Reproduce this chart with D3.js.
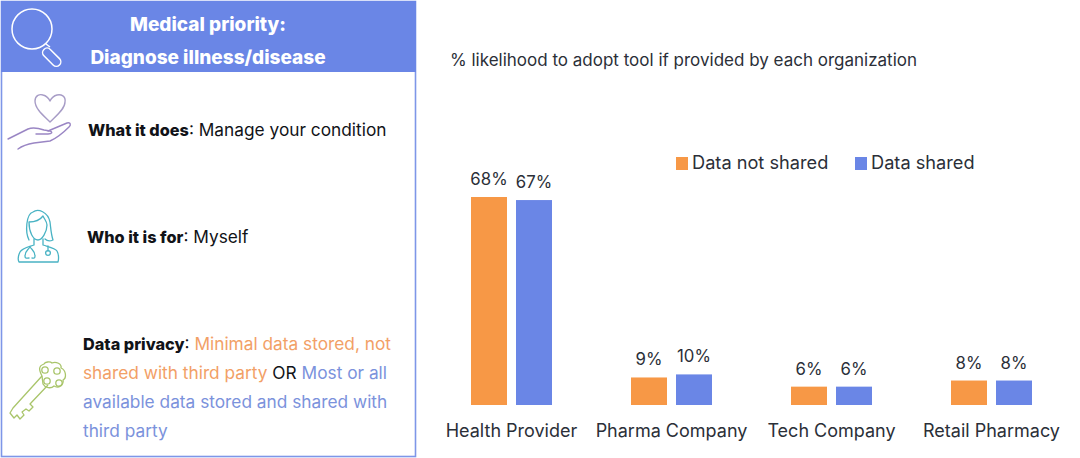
<!DOCTYPE html>
<html>
<head>
<meta charset="utf-8">
<script src="https://cdn.jsdelivr.net/npm/d3@7"></script>
<style>
  html, body { margin: 0; padding: 0; background: #fff; }
  svg { display: block; }
  text { font-family: Inter, "Open Sans", sans-serif; }
</style>
</head>
<body>
<svg width="1080" height="458"></svg>
<script>
let categories = ["Health Provider", "Pharma Company", "Tech Company", "Retail Pharmacy"];
let seriesNames = ["Data not shared", "Data shared"];
let notShared = [68, 9, 6, 8];
let shared = [67, 10, 6, 8];

let orange = "#f79846", blue = "#6a86e6", dark = "#2b2f38", black = "#111318";
let softOrange = "#f2a066", softBlue = "#7b92dc";
let svg = d3.select("svg");

// left panel
svg.append("rect").attr("x", 1.5).attr("y", 1.5).attr("width", 414).attr("height", 455)
    .attr("fill", "#fff").attr("stroke", "#7e96e8").attr("stroke-width", 1.6);
svg.append("rect").attr("x", 1).attr("y", 1).attr("width", 415).attr("height", 71).attr("fill", blue);

svg.append("text").attr("x", 208).attr("y", 31).attr("text-anchor", "middle")
    .attr("fill", "#fff").attr("font-weight", 800).style("font-size", "19px").text("Medical priority:");
svg.append("text").attr("x", 208).attr("y", 64).attr("text-anchor", "middle")
    .attr("fill", "#fff").attr("font-weight", 800).style("font-size", "19px").text("Diagnose illness/disease");

// panel text, built from runs of [text, color, weight]
function richLine(x, y, runs) {
    let t = svg.append("text").attr("x", x).attr("y", y);
    runs.forEach(r => t.append("tspan").attr("fill", r[1]).attr("font-weight", r[2] || 400)
        .style("font-size", (r[2] ? 16.3 : 17.3) + "px").text(r[0]));
}
richLine(88, 136, [["What it does", black, 800], [": Manage your condition", black]]);
richLine(87, 243, [["Who it is for", black, 800], [": Myself", black]]);
richLine(83, 350, [["Data privacy", black, 800], [": ", black], ["Minimal data stored, not", softOrange]]);
richLine(83, 379, [["shared with third party", softOrange], [" OR ", black], ["Most or all", softBlue]]);
richLine(83, 408, [["available data stored and shared with", softBlue]]);
richLine(83, 437, [["third party", softBlue]]);

// icons
let lens = svg.append("g").attr("fill", "none").attr("stroke", "#fff").attr("stroke-width", 1.5);
lens.append("circle").attr("cx", 32).attr("cy", 29).attr("r", 20);
lens.append("path").attr("d", "M46 44L50 47");
lens.append("rect").attr("x", 47).attr("y", 49.5).attr("width", 22).attr("height", 9).attr("rx", 4.5)
    .attr("transform", "rotate(45 51 48)");

let hand = svg.append("g").attr("fill", "none").attr("stroke", "#9a86c4").attr("stroke-width", 1.4)
    .attr("stroke-linecap", "round").attr("stroke-linejoin", "round");
hand.append("path").attr("d", "M50 122C44 116 35 109 35 101C35 95 40 94 43 95C47 96 49 99 50 101C51 99 53 96 57 95C61 94 66 96 65 102C65 109 56 116 50 122Z")
    .attr("stroke", "#a79cc6");
hand.append("path").attr("d", "M8 139L28 129C33 127 38 128 44 130L50 131C53 132 52 134 48 134L36 134");
hand.append("path").attr("d", "M48 131L67 123C71 122 71 125 69 127C63 133 57 138 50 141L34 143C28 144 22 146 18 149");

let doc = svg.append("g").attr("fill", "none").attr("stroke", "#49b3c4").attr("stroke-width", 1.3)
    .attr("stroke-linecap", "round").attr("stroke-linejoin", "round");
doc.append("path").attr("d", "M29 240C25 232 26 214 33 212C38 208 48 212 50 222C51 230 51 234 53 240C49 242 46 240 45 239");
doc.append("path").attr("d", "M29 222C34 222 40 220 43 216C45 220 47 222 47 225C47 232 42 240 38 240C33 240 29 232 29 222Z");
doc.append("path").attr("d", "M34 239V245C28 247 22 248 20 252C18 256 18 260 19 262H58C59 258 59 255 57 251C55 248 49 247 43 245V239");
doc.append("path").attr("d", "M30 247C28 250 25 251 25 256C25 259 27 258 29 258M30 247C32 250 35 251 35 256C35 259 33 258 32 258");
doc.append("path").attr("d", "M48 246V251");
doc.append("circle").attr("cx", 48).attr("cy", 253).attr("r", 2.4);

let key = svg.append("g").attr("fill", "none").attr("stroke", "#a9c56a").attr("stroke-width", 1.3)
    .attr("stroke-linejoin", "round");
key.append("path").attr("d", "M42 376L13 408L10 413L14 418L17 415L20 419L24 415L22 412L26 409L29 411L33 407L30 404L48 385");
key.append("path").attr("d", "M42 376C39 370 38 366 44 364C45 362 50 361 52 363C56 361 62 364 61 368C66 370 67 378 63 380C64 384 59 389 54 386C51 389 45 388 43 384Z");
[[45, 370], [57, 371], [47, 381], [59, 383]].forEach(c =>
    key.append("circle").attr("cx", c[0]).attr("cy", c[1]).attr("r", 3.2));

// chart title
svg.append("text").attr("x", 450).attr("y", 66).attr("fill", dark)
    .style("font-size", "17px").text("% likelihood to adopt tool if provided by each organization");

// bars
let x0 = d3.scaleBand().domain(categories).range([431.5, 1071.5]);
let x1 = d3.scaleBand().domain(seriesNames).range([0, 81]).paddingInner(0.2);
let y = d3.scaleLinear().domain([0, 68]).range([405, 197]);
let color = d3.scaleOrdinal().domain(seriesNames).range([orange, blue]);

let rows = categories.map((c, i) => ({ cat: c, vals: [notShared[i], shared[i]] }));
let groups = svg.append("g").selectAll("g").data(rows).enter().append("g")
    .attr("transform", d => "translate(" + (x0(d.cat) + (x0.bandwidth() - 81) / 2) + ",0)");

let cells = groups.selectAll("g").data(d => d.vals.map((v, i) => ({ name: seriesNames[i], v: v })))
    .enter().append("g");
cells.append("rect")
    .attr("x", d => x1(d.name))
    .attr("y", d => y(d.v))
    .attr("width", x1.bandwidth())
    .attr("height", d => y(0) - y(d.v))
    .attr("fill", d => color(d.name));
cells.append("text")
    .attr("x", d => x1(d.name) + x1.bandwidth() / 2)
    .attr("y", d => y(d.v) - 12)
    .attr("text-anchor", "middle")
    .attr("fill", dark)
    .style("font-size", "16.8px")
    .text(d => d.v + "%");

// category axis
let axis = svg.append("g").attr("transform", "translate(0,405)")
    .call(d3.axisBottom(x0).tickSize(0).tickPadding(19));
axis.select(".domain").remove();
axis.selectAll("text").attr("fill", dark).style("font-size", "18px")
    .style("font-family", "Inter, sans-serif");

// legend
let legendX = d3.scaleOrdinal().domain(seriesNames).range([676, 855]);
let legend = svg.append("g").selectAll("g").data(seriesNames).enter().append("g");
legend.append("rect").attr("x", d => legendX(d)).attr("y", 157).attr("width", 12).attr("height", 13)
    .attr("fill", d => color(d));
legend.append("text").attr("x", d => legendX(d) + 16).attr("y", 169).attr("fill", dark)
    .style("font-size", "18.2px").text(d => d);
</script>
</body>
</html>
